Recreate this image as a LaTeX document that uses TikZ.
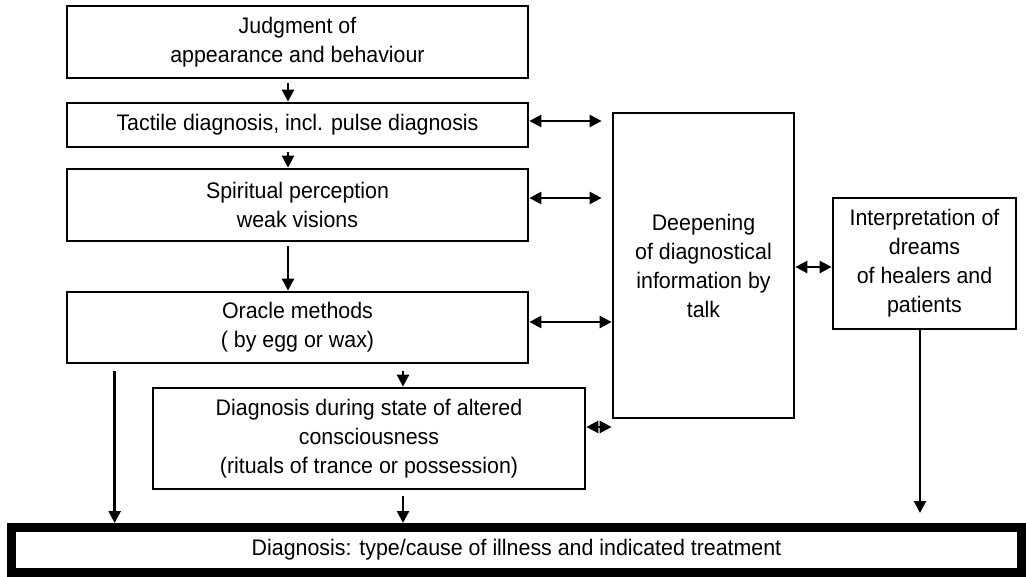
\documentclass[tikz,border=0pt]{standalone}
\usepackage{fontspec}
\setmainfont{Liberation Sans}[FakeStretch=0.95]
\usepackage{tikz}
\usetikzlibrary{arrows.meta}

\begin{document}
\begin{tikzpicture}[line cap=butt,line join=miter,>={Triangle[length=12pt,width=12pt]},x=1pt,y=-1pt,
  box/.style={draw,line width=2.7pt,inner sep=0pt,align=center,font=\fontsize{22.5}{29}\selectfont},
  link/.style={line width=2.5pt}]
\useasboundingbox (0,0) rectangle (1026,577);
\node[box,minimum width=461pt,minimum height=72pt] (judg) at (297.5,42) {Judgment of\\appearance and behaviour};
\node[box,minimum width=461pt,minimum height=44pt] (tact) at (297.5,125) {Tactile diagnosis, incl. pulse diagnosis};
\node[box,minimum width=461pt,minimum height=72pt] (spir) at (297.5,205) {Spiritual perception\\weak visions};
\node[box,minimum width=461pt,minimum height=71pt] (orac) at (297.5,327.5) {Oracle methods\\( by egg or wax)};
\node[box,minimum width=432pt,minimum height=101pt] (trance) at (369,438.5) {Diagnosis during state of altered\\consciousness\\(rituals of trance or possession)};
\node[box,minimum width=181pt,minimum height=305pt] (deep) at (703.5,265.5) {Deepening\\of diagnostical\\information by\\talk};
\node[box,minimum width=183pt,minimum height=131pt] (dream) at (924.5,263.5) {Interpretation of\\dreams\\of healers and\\patients};
\node[box,line width=9pt,minimum width=1010pt,minimum height=45pt] (diag) at (516.5,550) {Diagnosis: type/cause of illness and indicated treatment};
\coordinate (l1) at ([xshift=49pt]orac.south west);
\draw[link,->,shorten <=4pt] ([xshift=-9.5pt]judg.south) -- ([xshift=-9.5pt]tact.north);
\draw[link,->,shorten <=4pt] ([xshift=-9.5pt]tact.south) -- ([xshift=-9.5pt]spir.north);
\draw[link,->,shorten <=4pt] ([xshift=-9.5pt]spir.south) -- ([xshift=-9.5pt]orac.north);
\draw[link,->,shorten <=7pt] ([xshift=34pt]trance.north |- orac.south) -- ([xshift=34pt]trance.north);
\draw[link,->,shorten <=7pt] (l1) -- (l1 |- diag.north);
\draw[link,->,shorten <=6pt] ([xshift=34pt]trance.south) -- ([xshift=34pt]trance.south |- diag.north);
\draw[link,->,shorten >=10pt] ([xshift=-4.5pt]dream.south) -- ([xshift=-4.5pt]dream.south |- diag.north);
\draw[link,<->,shorten >=10pt] ([yshift=4pt]tact.east) -- ([yshift=4pt]tact.east -| deep.west);
\draw[link,<->,shorten >=10pt] ([yshift=7pt]spir.east) -- ([yshift=7pt]spir.east -| deep.west);
\draw[link,<->] ([yshift=5.5pt]orac.east) -- ([yshift=5.5pt]orac.east -| deep.west);
\draw[link,<->] ([yshift=11.5pt]trance.east) -- ([yshift=11.5pt]trance.east -| deep.west);
\draw[link,<->] ([yshift=-1.5pt]deep.east) -- ([yshift=-1.5pt]deep.east -| dream.west);
\end{tikzpicture}
\end{document}
